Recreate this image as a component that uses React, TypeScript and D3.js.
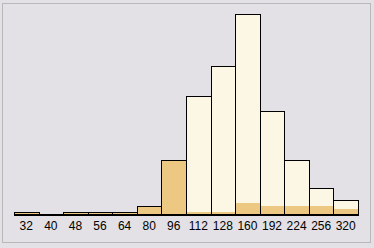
import React from "react";
import * as d3 from "d3";

const categories = ["32", "40", "48", "56", "64", "80", "96", "112", "128", "160", "192", "224", "256", "320"];
const totals = [2, 0, 2, 2, 2, 8, 54, 118, 148, 200, 103, 54, 26, 14];
const highlighted = [2, 0, 2, 2, 2, 8, 54, 2, 2, 11, 8, 8, 8, 5];
const fullHighlight = [true, true, true, true, true, true, true, false, false, false, false, false, false, false];

const W = 374;
const H = 248;
const BG = "#E3E1E5";
const CREAM = "#FCF6E4";
const ORANGE = "#ECC883";

export default function App() {
  const x = d3.scaleBand<string>().domain(categories).range([14, 358]).padding(0);
  const y = d3.scaleLinear().domain([0, 200]).range([214, 14]);
  const bw = x.bandwidth();
  return (
    <svg width={W} height={H} style={{ position: "fixed", left: 0, top: 0, display: "block" }}>
      <rect x={0} y={0} width={W} height={H} fill={BG} />
      <rect x={2.5} y={3.5} width={368} height={239} fill={BG} stroke="#B8B8B8" strokeWidth={1} />
      {categories.map((c, i) => {
        const x0 = Math.round(x(c)!);
        const x1 = Math.round(x(c)! + bw);
        const top = Math.round(y(totals[i]));
        const hTop = Math.round(y(highlighted[i]));
        if (totals[i] <= 0) return null;
        return (
          <g key={c}>
            <rect
              x={x0 + 0.5}
              y={top + 0.5}
              width={x1 - x0}
              height={214 - top}
              fill={fullHighlight[i] ? ORANGE : CREAM}
              stroke="#000"
              strokeWidth={1}
            />
            {!fullHighlight[i] && highlighted[i] > 0 && (
              <rect x={x0 + 1} y={hTop} width={x1 - x0 - 1} height={214 - hTop} fill={ORANGE} />
            )}
          </g>
        );
      })}
      <rect x={14} y={214} width={345} height={2} fill="#000" />
      {categories.map((c) => (
        <text
          key={"t" + c}
          x={x(c)! + bw / 2}
          y={230}
          textAnchor="middle"
          fontFamily="'Liberation Sans Narrow', 'Liberation Sans', Arial, sans-serif"
          fontSize={12}
          fill="#000"
        >
          {c}
        </text>
      ))}
    </svg>
  );
}
